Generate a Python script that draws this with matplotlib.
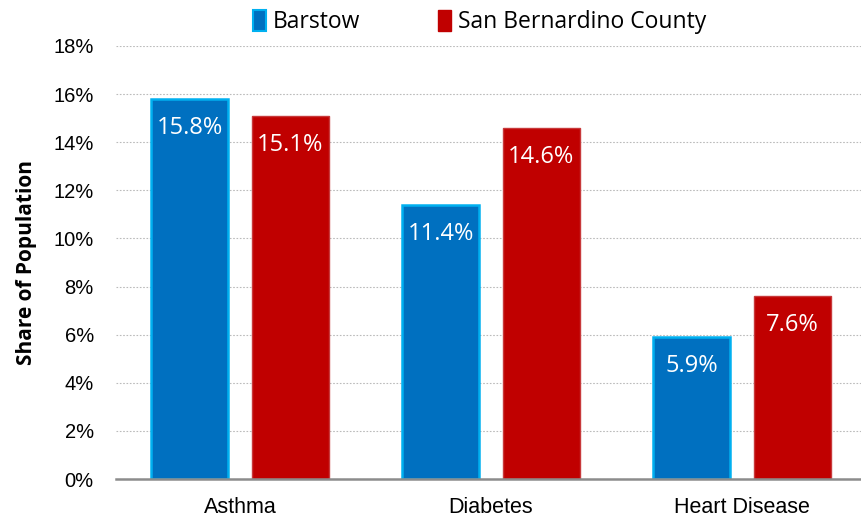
import numpy as np
import matplotlib.pyplot as plt
from matplotlib.patches import Patch

# data per kategori
kategori = ['Asthma', 'Diabetes', 'Heart Disease']
barstow = [15.8, 11.4, 5.9]
san_bernardino = [15.1, 14.6, 7.6]
label_seri = ['Barstow', 'San Bernardino County']
yticks = [0, 2, 4, 6, 8, 10, 12, 14, 16, 18]

font_sempit = ['Liberation Sans Narrow', 'Liberation Sans', 'DejaVu Sans']
font_label = ['Open Sans', 'DejaVu Sans']

fig = plt.figure(figsize=(8.61, 5.25), dpi=100)
ax = fig.add_axes([0.1347, 0.0876, 0.8653, 0.8248])

x = np.arange(len(kategori))
lebar = 0.307
geser = 0.2

b1 = ax.bar(x - geser, barstow, lebar, color='#0070C0', edgecolor='#00B0F0', linewidth=1.8, zorder=3)
b2 = ax.bar(x + geser, san_bernardino, lebar, color='#C00000', edgecolor='#C8393B', linewidth=1.0, zorder=3)

# label nilai di dalam batang
for bars, nilai in ((b1, barstow), (b2, san_bernardino)):
    for b, v in zip(bars, nilai):
        ax.annotate('%.1f%%' % v, (b.get_x() + b.get_width() / 2, v),
                    xytext=(0, -29), textcoords='offset pixels',
                    ha='center', va='center', color='white', fontsize=17,
                    family=font_label, zorder=4)

ax.set_xlim(-0.494, 2.474)
ax.set_ylim(0, 18)
ax.set_yticks(yticks)
ax.set_yticklabels(['%d%%' % t for t in yticks], family=font_sempit, fontsize=14.5)
ax.set_xticks(x)
ax.set_xticklabels(kategori, family=font_sempit, fontsize=15.5)
ax.tick_params(axis='y', length=0, pad=16)
ax.tick_params(axis='x', length=0, pad=13)

ax.yaxis.grid(True, linestyle=(0, (1.5, 1.5)), color='#BBBBBB', linewidth=0.8, zorder=0)
for s in ('left', 'right', 'top'):
    ax.spines[s].set_visible(False)
ax.spines['bottom'].set_color('#8C8C8C')
ax.spines['bottom'].set_linewidth(1.8)
ax.spines['bottom'].set_zorder(5)

ax.set_ylabel('Share of Population', family=font_label, fontweight='bold', fontsize=15, labelpad=12)

handles = [Patch(facecolor='#0070C0', edgecolor='#00B0F0', linewidth=1.5),
           Patch(facecolor='#C00000', edgecolor='#C00000')]
fig.legend(handles, label_seri, loc='center', bbox_to_anchor=(0.557, 0.958), ncol=2,
           frameon=False, handlelength=0.55, handleheight=1.0, handletextpad=0.3,
           columnspacing=3.4, prop={'family': font_label, 'size': 16.5})

fig.savefig('out.png', dpi=100)
